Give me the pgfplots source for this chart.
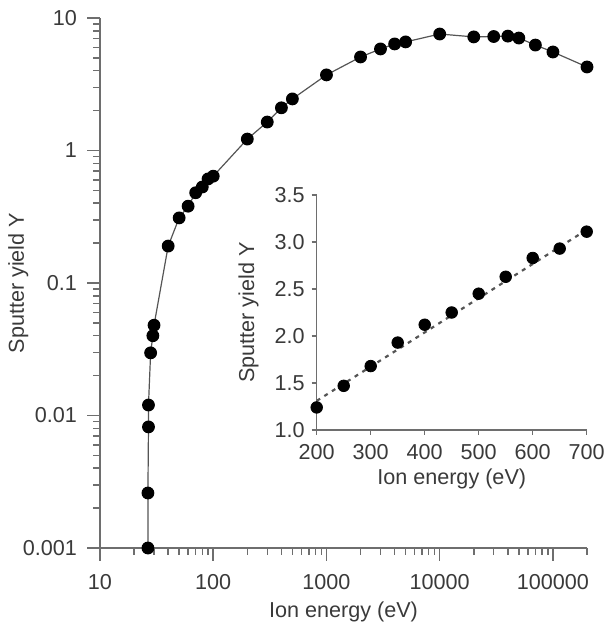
\documentclass[border=0pt]{standalone}
\usepackage{pgfplots}
\pgfplotsset{compat=1.18}
\usepackage{fontspec}
\setmainfont{Liberation Sans}
\definecolor{axgray}{HTML}{6E6E6E}
\definecolor{txt}{HTML}{3A3A3A}
\definecolor{lin}{HTML}{555555}
\begin{document}
\begin{tikzpicture}
\path[use as bounding box] (-50pt,-38.5pt) rectangle (253pt,274pt);
\begin{axis}[
  at={(0,0)}, anchor=south west,
  scale only axis, width=243.5pt, height=265pt,
  xmode=log, ymode=log,
  xmin=10, xmax=200000, ymin=0.001, ymax=10,
  axis lines=left, axis line style={-, axgray, line width=0.75pt},
  every tick/.style={axgray, line width=0.75pt},
  tick align=outside, major tick length=6.5pt, minor tick length=3.5pt,
  xtick={10,100,1000,10000,100000},
  xticklabels={10,100,1000,10000,100000},
  minor xtick={20,30,40,50,60,70,80,90,200,300,400,500,600,700,800,900,2000,3000,4000,5000,6000,7000,8000,9000,20000,30000,40000,50000,60000,70000,80000,90000,200000},
  ytick={0.001,0.01,0.1,1,10},
  yticklabels={0.001,0.01,0.1,1,10},
  minor ytick={0.002,0.003,0.004,0.005,0.006,0.007,0.008,0.009,0.02,0.03,0.04,0.05,0.06,0.07,0.08,0.09,0.2,0.3,0.4,0.5,0.6,0.7,0.8,0.9,2,3,4,5,6,7,8,9},
  font=\fontsize{10.8}{13}\selectfont,
  tick label style={txt},
  xticklabel style={yshift=-3pt},
  yticklabel style={xshift=-1.5pt},
  xlabel={Ion energy (eV)}, ylabel={Sputter yield Y},
  xlabel style={txt, at={(axis description cs:0.5,-0.12)}, anchor=center},
  ylabel style={txt, at={(axis description cs:-0.168,0.5)}, anchor=center},
  clip=false,
]
\addplot[lin, line width=0.6pt, mark=*, mark size=2.9pt, mark options={black, fill=black}] coordinates {
 (26.5,0.001) (26.5,0.0026) (26.8,0.0082) (26.8,0.012) (28,0.0297) (29.3,0.040) (30,0.048)
 (40,0.19) (50,0.31) (60,0.38) (70,0.48) (80,0.53) (90,0.61) (100,0.64)
 (200,1.22) (300,1.64) (400,2.1) (500,2.45)
 (1000,3.72) (2000,5.08) (3000,5.84) (4000,6.37) (5000,6.6)
 (10000,7.57) (20000,7.2) (30000,7.25) (40000,7.3) (50000,7.06)
 (70000,6.25) (100000,5.54) (200000,4.27)
};
\end{axis}
\begin{axis}[
  at={(108.35pt,59pt)}, anchor=south west,
  scale only axis, width=135pt, height=117.5pt,
  xmin=200, xmax=700, ymin=1, ymax=3.5,
  axis lines=left, axis line style={-, axgray, line width=0.75pt},
  every tick/.style={axgray, line width=0.75pt},
  tick align=outside, major tick length=2.5pt,
  xtick={200,300,400,500,600,700},
  ytick={1,1.5,2,2.5,3,3.5},
  yticklabel style={/pgf/number format/.cd, fixed, fixed zerofill, precision=1},
  /pgf/number format/assume math mode=true,
  font=\fontsize{10.8}{13}\selectfont,
  tick label style={txt},
  xticklabel style={yshift=-1pt},
  xlabel={Ion energy (eV)}, ylabel={Sputter yield Y},
  xlabel style={txt, at={(axis description cs:0.5,-0.21)}, anchor=center},
  ylabel style={txt, at={(axis description cs:-0.252,0.5)}, anchor=center},
  clip=false,
]
\addplot[lin, line width=1.1pt, dash pattern=on 2pt off 2.5pt] coordinates {(200,1.31) (700,3.13)};
\addplot[only marks, mark=*, mark size=2.9pt, mark options={black, fill=black}] coordinates {
 (200,1.24) (250,1.47) (300,1.68) (350,1.93) (400,2.12) (450,2.25) (500,2.45) (550,2.63) (600,2.83) (650,2.93) (700,3.11)
};
\end{axis}
\end{tikzpicture}
\end{document}
